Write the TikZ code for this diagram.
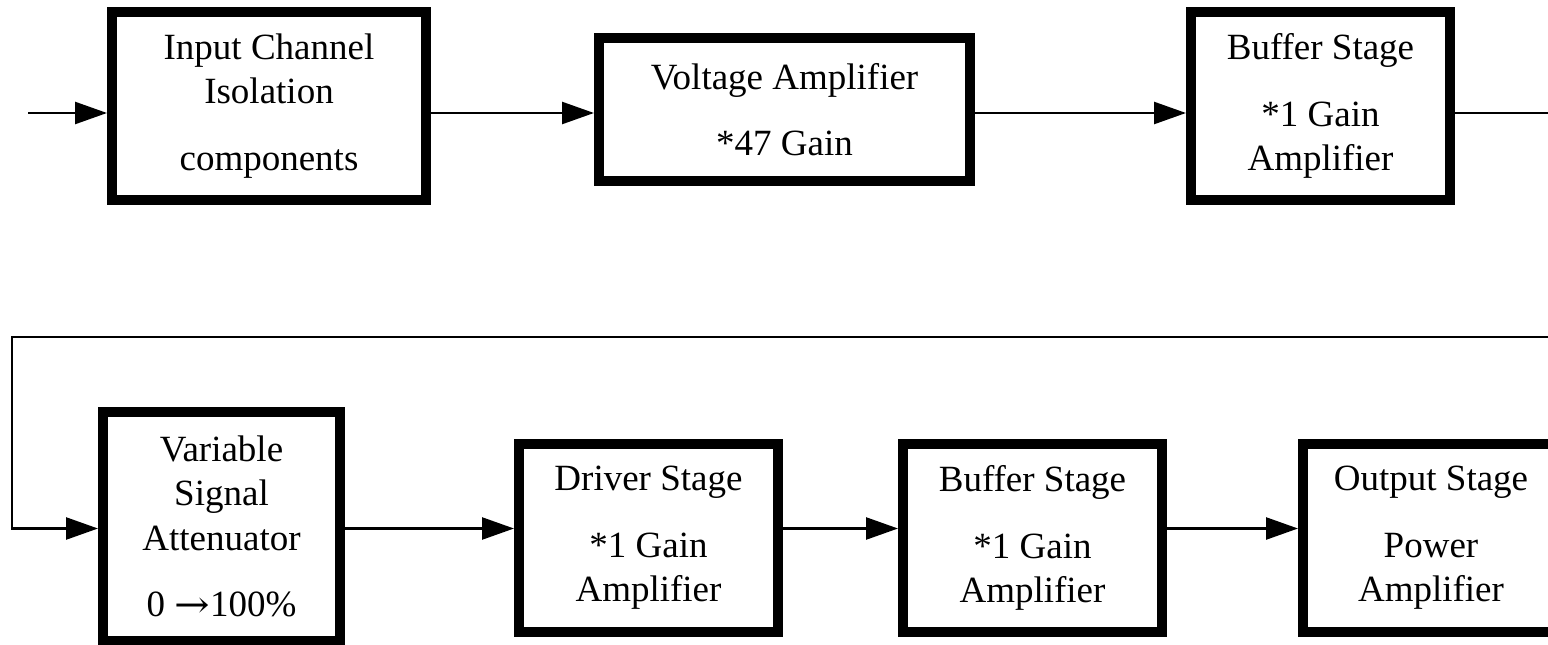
\documentclass[tikz,border=0pt]{standalone}
\usepackage{fontspec}
\usepackage{graphicx}
\setmainfont{Liberation Serif}
\newfontfamily\arrfont{DejaVu Serif}
\usetikzlibrary{arrows.meta}
\tikzset{
  blk/.style={draw=black, line width=10pt, fill=white, align=center,
    font=\fontsize{37}{44.5}\selectfont, inner sep=0pt},
  conn/.style={draw=black, line width=2.5pt},
  arr/.style={conn, -{Triangle[length=32pt, width=22pt]}}
}
\begin{document}
\begin{tikzpicture}[x=1pt, y=-1pt]
\useasboundingbox (0,0) rectangle (1548,645);
\clip (0,0) rectangle (1548,645);
% top row
\node[blk, minimum width=314pt, minimum height=188pt] (b1) at (269,106)
  {Input Channel\\ Isolation\\[22pt] components};
\node[blk, minimum width=371pt, minimum height=143pt] (b2) at (784.5,109.5)
  {Voltage Amplifier\\[22pt] *47 Gain};
\node[blk, minimum width=259pt, minimum height=188pt] (b3) at (1320.5,106)
  {Buffer Stage\\[22pt] *1 Gain\\ Amplifier};
% bottom row
\node[blk, minimum width=237pt, minimum height=229pt] (att) at (221.5,526.5)
  {Variable\\ Signal\\ Attenuator\\[22pt] 0 \raisebox{-1pt}{\scalebox{1.15}[1]{\arrfont →}}100\%};
\node[blk, minimum width=259pt, minimum height=188pt] (drv) at (648.5,538)
  {Driver Stage\\[22pt] *1 Gain\\ Amplifier};
\node[blk, minimum width=259pt, minimum height=188pt] (buf) at (1032.5,538)
  {Buffer Stage\\[22pt] *1 Gain\\ Amplifier};
\node[blk, minimum width=256pt, minimum height=188pt] (out) at (1431,538)
  {Output Stage\\[22pt] Power\\ Amplifier};
% coordinates
\coordinate (row1) at (0,113);
\coordinate (row2) at (0,528.5);
\coordinate (in) at (28,113);
\coordinate (exitR) at (1560,113);
\coordinate (retR) at (1560,337);
\coordinate (retL) at (12,337);
% connectors
\draw[arr] (in) -- (b1.west |- row1);
\draw[arr] (b1.east |- row1) -- (b2.west |- row1);
\draw[arr] (b2.east |- row1) -- (b3.west |- row1);
\draw[conn] (b3.east |- row1) -- (exitR);
\draw[arr] (retR) -- (retL) -- (retL |- row2) -- (att.west |- row2);
\draw[arr] (att.east |- row2) -- (drv.west |- row2);
\draw[arr] (drv.east |- row2) -- (buf.west |- row2);
\draw[arr] (buf.east |- row2) -- (out.west |- row2);
\end{tikzpicture}
\end{document}
